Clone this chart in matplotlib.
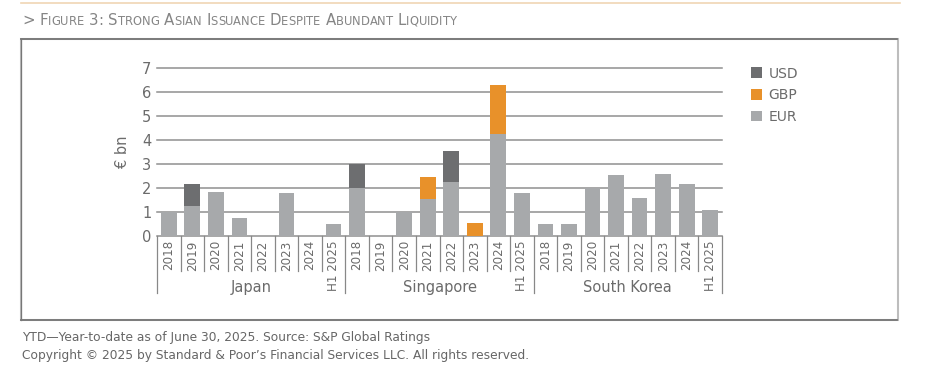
import matplotlib
matplotlib.use('Agg')
import matplotlib.pyplot as plt
import matplotlib.transforms as mtransforms
from matplotlib.patches import Rectangle
import numpy as np

# data (EUR bn)
countries = ['Japan', 'Singapore', 'South Korea']
years = ['2018', '2019', '2020', '2021', '2022', '2023', '2024', 'H1 2025']
eur = [1.0, 1.25, 1.85, 0.75, 0.0, 1.8, 0.0, 0.5,
       2.0, 0.0, 1.0, 1.55, 2.25, 0.0, 4.25, 1.8,
       0.5, 0.5, 2.0, 2.55, 1.6, 2.6, 2.15, 1.1]
gbp = [0, 0, 0, 0, 0, 0, 0, 0,
       0, 0, 0, 0.9, 0, 0.55, 2.05, 0,
       0, 0, 0, 0, 0, 0, 0, 0]
usd = [0, 0.9, 0, 0, 0, 0, 0, 0,
       1.0, 0, 0, 0, 1.3, 0, 0, 0,
       0, 0, 0, 0, 0, 0, 0, 0]

title = '> Figure 3: Strong Asian Issuance Despite Abundant Liquidity'
note1 = 'YTD\u2014Year-to-date as of June 30, 2025. Source: S&P Global Ratings'
note2 = 'Copyright \u00a9 2025 by Standard & Poor\u2019s Financial Services LLC. All rights reserved.'

c_eur = '#a7a9ab'
c_gbp = '#e8912a'
c_usd = '#6d6e70'
txt = '#6b6b6b'

W, H = 931, 376
fig = plt.figure(figsize=(W / 100, H / 100), dpi=100)

# frame decorations
fig.add_artist(plt.Line2D([21 / W, 900 / W], [1 - 2.5 / H] * 2, color='#f0d6b4', lw=1.2))
fig.add_artist(Rectangle((21 / W, 1 - 320 / H), 877 / W, 281 / H, fill=False,
                         edgecolor='#bdbdbd', lw=1.5))
fig.add_artist(plt.Line2D([21 / W, 897 / W], [1 - 39 / H] * 2, color='#777777', lw=1.3))
fig.add_artist(plt.Line2D([21 / W, 897 / W], [1 - 320 / H] * 2, color='#777777', lw=1.3))
fig.add_artist(plt.Line2D([21 / W, 21 / W], [1 - 320 / H, 1 - 39 / H], color='#777777', lw=0.9))

# title in small caps, drawn piece by piece
renderer = fig.canvas.get_renderer()
x = 22 / W
for i, word in enumerate(title.split(' ')):
    if i > 0:
        word = ' ' + word
    for ch in word:
        big = not ch.isalpha() or ch.isupper()
        t = fig.text(x, 1 - 25 / H, ch.upper(), fontsize=10.8 if big else 8.3,
                     color='#858585', va='baseline', ha='left')
        bb = t.get_window_extent(renderer=renderer)
        x += bb.width / W

fig.text(22 / W, 1 - 338 / H, note1, fontsize=8.8, color='#666666', va='center')
fig.text(22 / W, 1 - 356 / H, note2, fontsize=8.8, color='#666666', va='center')

# chart
ax = fig.add_axes([157 / W, 1 - 236 / H, 565 / W, 168 / H])
n = len(eur)
xs = np.arange(n)
eur = np.array(eur)
gbp = np.array(gbp)
usd = np.array(usd)
bw = 0.67
ax.bar(xs, eur, bw, color=c_eur, label='EUR', zorder=3)
ax.bar(xs, gbp, bw, bottom=eur, color=c_gbp, label='GBP', zorder=3)
ax.bar(xs, usd, bw, bottom=eur + gbp, color=c_usd, label='USD', zorder=3)

ax.set_xlim(-0.5, n - 0.5)
ax.set_ylim(0, 7)
ax.set_yticks(range(8))
ax.yaxis.grid(True, color='#8f8f8f', lw=1.1, zorder=0)
for gl in ax.get_ygridlines():
    gl.set_clip_on(False)
for s in ax.spines.values():
    s.set_visible(False)
ax.tick_params(axis='y', length=0, labelsize=10.5, colors=txt, pad=4)
ax.set_xticks([])
ax.set_ylabel('\u20ac bn', fontsize=10.5, color=txt, labelpad=9)

tr = mtransforms.blended_transform_factory(ax.transData, ax.transAxes)
labels = years * len(countries)
for i, lab in enumerate(labels):
    ax.text(i, -0.025, lab, rotation=90, ha='center', va='top', fontsize=8.6,
            color=txt, transform=tr)
for i in range(n + 1):
    edge = (i % len(years) == 0)
    ax.plot([i - 0.5, i - 0.5], [0, -0.34 if edge else -0.21], color='#888888',
            lw=0.9, transform=tr, clip_on=False)
for g, name in enumerate(countries):
    mid = g * len(years) + (len(years) - 1) / 2
    ax.text(mid, -0.305, name, ha='center', va='center', fontsize=10.5,
            color=txt, transform=tr)

handles, labs = ax.get_legend_handles_labels()
leg = fig.legend(handles[::-1], labs[::-1], loc='upper left',
                 bbox_to_anchor=(738 / W, 1 - 54 / H), frameon=False,
                 fontsize=10, handlelength=0.8, handleheight=0.8,
                 handletextpad=0.5, labelspacing=0.55, labelcolor=txt)

fig.savefig('out.png', dpi=100)
